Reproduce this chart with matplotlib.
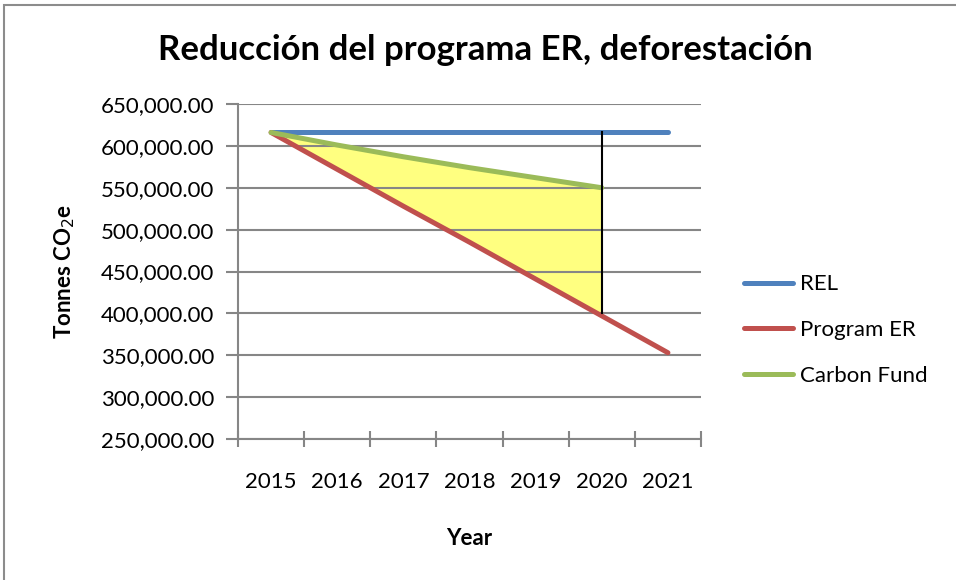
import matplotlib
matplotlib.use("Agg")
import matplotlib.pyplot as plt
from matplotlib.patches import Rectangle
from matplotlib.ticker import FuncFormatter, MultipleLocator, FixedLocator

years = ["2015", "2016", "2017", "2018", "2019", "2020", "2021"]
rel = [616000, 616000, 616000, 616000, 616000, 616000, 616000]
program_er = [616000, 572000, 528000, 485000, 441000, 397000, 353000]
carbon_fund = [616000, 601000, 587000, 574000, 562000, 550000]

plt.rcParams['font.family'] = ['Lato', 'DejaVu Sans']

fig = plt.figure(figsize=(9.56, 5.8), dpi=100)
ax = fig.add_axes([238/956, 1-439/580, (701-238)/956, (439-104)/580])

x = list(range(len(years)))
xc = x[:len(carbon_fund)]

ax.fill_between(xc, carbon_fund, program_er[:len(carbon_fund)], color='#FFFF80', zorder=1, linewidth=0)
ax.plot(x, rel, color='#4F81BD', lw=3.6, solid_capstyle='round', label='REL', zorder=3)
ax.plot(x, program_er, color='#C0504D', lw=3.6, solid_capstyle='round', label='Program ER', zorder=3)
ax.plot(xc, carbon_fund, color='#9BBB59', lw=3.6, solid_capstyle='round', label='Carbon Fund', zorder=3)
ax.plot([xc[-1], xc[-1]], [program_er[len(carbon_fund)-1] + 4000, rel[len(carbon_fund)-1]], color='black', lw=1.5, zorder=4)

ax.set_xlim(-0.5, len(years) - 0.5)
ax.set_ylim(250000, 650000)
ax.yaxis.set_major_locator(MultipleLocator(50000))
ax.yaxis.set_major_formatter(FuncFormatter(lambda v, p: f"{v:,.2f}"))
ax.set_xticks(x)
ax.set_xticklabels(years)
ax.xaxis.set_minor_locator(FixedLocator([i - 0.5 for i in range(len(years) + 1)]))
ax.tick_params(axis='x', which='major', length=0, pad=24, labelsize=16, colors='#000000')
ax.tick_params(axis='x', which='minor', length=12, direction='inout', color='#868686', width=1.5)
ax.tick_params(axis='y', which='major', length=9, direction='out', color='#868686', width=1.5, labelsize=16, pad=8)

ax.grid(axis='y', color='#868686', lw=1.5, zorder=0)
for s in ['top', 'right']:
    ax.spines[s].set_visible(False)
for s in ['left', 'bottom']:
    ax.spines[s].set_color('#868686')
    ax.spines[s].set_linewidth(1.5)

ax.set_xlabel('Year', fontsize=16, fontweight='bold', labelpad=26)
ax.set_ylabel('Tonnes CO$_2$e', fontsize=16, fontweight='bold', labelpad=17)

fig.text(485/956, 1-50/580, 'Reducción del programa ER, deforestación', ha='center', va='center',
         fontsize=25, fontweight='bold')

leg = fig.legend(loc='center left', bbox_to_anchor=(724/956, 1-330/580), frameon=False,
                 fontsize=16, handlelength=2.2, labelspacing=1.15, handletextpad=0.3)

fig.patches.append(Rectangle((4/956, -0.1), 1.2, 1 - 5/580 + 0.1, transform=fig.transFigure,
                             fill=False, edgecolor='#8c8c8c', lw=1.5))

fig.savefig('out.png', dpi=100)
